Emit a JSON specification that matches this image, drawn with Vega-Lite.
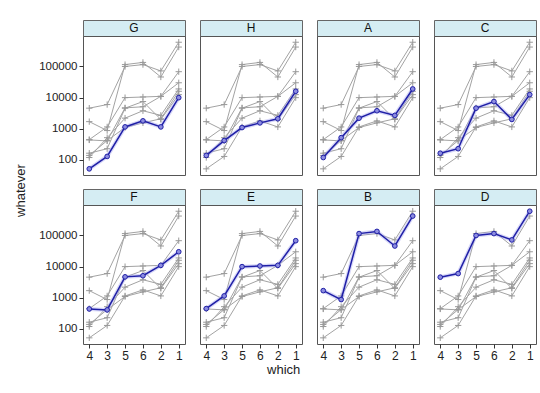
{
"$schema": "https://vega.github.io/schema/vega-lite/v6.json",
"padding": {"left": 15, "top": 19, "right": 5, "bottom": 5},
"config": {"font": "Liberation Sans", "view": {"stroke": "#555555"}, "axis": {"domain": false, "grid": false, "tickColor": "#333333", "labelColor": "#222222", "labelFont": "Liberation Sans"}},
"datasets": {"d": [
{"s":"G","w":"4","v":52},{"s":"G","w":"3","v":130},{"s":"G","w":"5","v":1150},{"s":"G","w":"6","v":1800},{"s":"G","w":"2","v":1150},{"s":"G","w":"1","v":10000},
{"s":"H","w":"4","v":140},{"s":"H","w":"3","v":420},{"s":"H","w":"5","v":1100},{"s":"H","w":"6","v":1550},{"s":"H","w":"2","v":2100},{"s":"H","w":"1","v":16000},
{"s":"A","w":"4","v":120},{"s":"A","w":"3","v":520},{"s":"A","w":"5","v":2200},{"s":"A","w":"6","v":3800},{"s":"A","w":"2","v":2700},{"s":"A","w":"1","v":19000},
{"s":"C","w":"4","v":165},{"s":"C","w":"3","v":230},{"s":"C","w":"5","v":4600},{"s":"C","w":"6","v":7500},{"s":"C","w":"2","v":2000},{"s":"C","w":"1","v":12500},
{"s":"F","w":"4","v":440},{"s":"F","w":"3","v":410},{"s":"F","w":"5","v":4700},{"s":"F","w":"6","v":5100},{"s":"F","w":"2","v":11000},{"s":"F","w":"1","v":30000},
{"s":"E","w":"4","v":450},{"s":"E","w":"3","v":1150},{"s":"E","w":"5","v":10000},{"s":"E","w":"6","v":10500},{"s":"E","w":"2","v":11000},{"s":"E","w":"1","v":68000},
{"s":"B","w":"4","v":1700},{"s":"B","w":"3","v":880},{"s":"B","w":"5","v":115000},{"s":"B","w":"6","v":135000},{"s":"B","w":"2","v":46000},{"s":"B","w":"1","v":420000},
{"s":"D","w":"4","v":4600},{"s":"D","w":"3","v":6000},{"s":"D","w":"5","v":100000},{"s":"D","w":"6","v":115000},{"s":"D","w":"2","v":72000},{"s":"D","w":"1","v":600000}
]},
"title": {"text": "which", "orient": "bottom", "anchor": "middle", "fontSize": 13, "fontWeight": "normal", "color": "#222222", "dx": 7, "offset": 2},
"vconcat": [{
"title": {"text": "whatever", "orient": "left", "anchor": "middle", "fontSize": 13, "fontWeight": "normal", "color": "#222222", "offset": 10},
"spacing": 10,
"vconcat": [
{"spacing": 9, "hconcat": [
{"spacing": 0, "bounds": "flush", "vconcat": [
{"width": 102, "height": 16, "data": {"values": [{}]}, "mark": {"type": "text", "text": "G", "fontSize": 12, "color": "#111111"}, "encoding": {}, "view": {"fill": "#d5edf3", "stroke": "#666666", "cornerRadius": 0}},
{"width": 102, "height": 139, "data": {"name": "d"},
"encoding": {"x": {"field": "w", "type": "ordinal", "sort": ["4","3","5","6","2","1"], "scale": {"type": "point", "padding": 0.35}, "axis": null},
"y": {"field": "v", "type": "quantitative", "scale": {"type": "log", "domain": [33, 950000], "nice": false}, "axis": {"title": null, "values": [100,1000,10000,100000], "format": "d", "labelFontSize": 11.5, "tickSize": 4, "labelPadding": 2}}},
"layer": [
{"transform": [{"filter": "datum.s != 'G'"}], "mark": {"type": "line", "color": "#a3a3a3", "strokeWidth": 1}, "encoding": {"detail": {"field": "s"}}},
{"transform": [{"filter": "datum.s != 'G'"}], "mark": {"type": "point", "shape": "M-1,0L1,0M0,-1L0,1", "size": 40, "color": "#999999", "strokeWidth": 1, "opacity": 1}},
{"transform": [{"filter": "datum.s == 'G'"}], "mark": {"type": "line", "color": "#a8a8f0", "strokeWidth": 4, "opacity": 0.45}},
{"transform": [{"filter": "datum.s == 'G'"}], "mark": {"type": "line", "color": "#1f1fa6", "strokeWidth": 1.5}},
{"transform": [{"filter": "datum.s == 'G'"}], "mark": {"type": "point", "shape": "circle", "size": 22, "fill": "#8c8ce0", "stroke": "#1f1fa6", "strokeWidth": 1, "opacity": 1}}
]}
]},
{"spacing": 0, "bounds": "flush", "vconcat": [
{"width": 102, "height": 16, "data": {"values": [{}]}, "mark": {"type": "text", "text": "H", "fontSize": 12, "color": "#111111"}, "encoding": {}, "view": {"fill": "#d5edf3", "stroke": "#666666", "cornerRadius": 0}},
{"width": 102, "height": 139, "data": {"name": "d"},
"encoding": {"x": {"field": "w", "type": "ordinal", "sort": ["4","3","5","6","2","1"], "scale": {"type": "point", "padding": 0.35}, "axis": null},
"y": {"field": "v", "type": "quantitative", "scale": {"type": "log", "domain": [33, 950000], "nice": false}, "axis": null}},
"layer": [
{"transform": [{"filter": "datum.s != 'H'"}], "mark": {"type": "line", "color": "#a3a3a3", "strokeWidth": 1}, "encoding": {"detail": {"field": "s"}}},
{"transform": [{"filter": "datum.s != 'H'"}], "mark": {"type": "point", "shape": "M-1,0L1,0M0,-1L0,1", "size": 40, "color": "#999999", "strokeWidth": 1, "opacity": 1}},
{"transform": [{"filter": "datum.s == 'H'"}], "mark": {"type": "line", "color": "#a8a8f0", "strokeWidth": 4, "opacity": 0.45}},
{"transform": [{"filter": "datum.s == 'H'"}], "mark": {"type": "line", "color": "#1f1fa6", "strokeWidth": 1.5}},
{"transform": [{"filter": "datum.s == 'H'"}], "mark": {"type": "point", "shape": "circle", "size": 22, "fill": "#8c8ce0", "stroke": "#1f1fa6", "strokeWidth": 1, "opacity": 1}}
]}
]},
{"spacing": 0, "bounds": "flush", "vconcat": [
{"width": 102, "height": 16, "data": {"values": [{}]}, "mark": {"type": "text", "text": "A", "fontSize": 12, "color": "#111111"}, "encoding": {}, "view": {"fill": "#d5edf3", "stroke": "#666666", "cornerRadius": 0}},
{"width": 102, "height": 139, "data": {"name": "d"},
"encoding": {"x": {"field": "w", "type": "ordinal", "sort": ["4","3","5","6","2","1"], "scale": {"type": "point", "padding": 0.35}, "axis": null},
"y": {"field": "v", "type": "quantitative", "scale": {"type": "log", "domain": [33, 950000], "nice": false}, "axis": null}},
"layer": [
{"transform": [{"filter": "datum.s != 'A'"}], "mark": {"type": "line", "color": "#a3a3a3", "strokeWidth": 1}, "encoding": {"detail": {"field": "s"}}},
{"transform": [{"filter": "datum.s != 'A'"}], "mark": {"type": "point", "shape": "M-1,0L1,0M0,-1L0,1", "size": 40, "color": "#999999", "strokeWidth": 1, "opacity": 1}},
{"transform": [{"filter": "datum.s == 'A'"}], "mark": {"type": "line", "color": "#a8a8f0", "strokeWidth": 4, "opacity": 0.45}},
{"transform": [{"filter": "datum.s == 'A'"}], "mark": {"type": "line", "color": "#1f1fa6", "strokeWidth": 1.5}},
{"transform": [{"filter": "datum.s == 'A'"}], "mark": {"type": "point", "shape": "circle", "size": 22, "fill": "#8c8ce0", "stroke": "#1f1fa6", "strokeWidth": 1, "opacity": 1}}
]}
]},
{"spacing": 0, "bounds": "flush", "vconcat": [
{"width": 102, "height": 16, "data": {"values": [{}]}, "mark": {"type": "text", "text": "C", "fontSize": 12, "color": "#111111"}, "encoding": {}, "view": {"fill": "#d5edf3", "stroke": "#666666", "cornerRadius": 0}},
{"width": 102, "height": 139, "data": {"name": "d"},
"encoding": {"x": {"field": "w", "type": "ordinal", "sort": ["4","3","5","6","2","1"], "scale": {"type": "point", "padding": 0.35}, "axis": null},
"y": {"field": "v", "type": "quantitative", "scale": {"type": "log", "domain": [33, 950000], "nice": false}, "axis": null}},
"layer": [
{"transform": [{"filter": "datum.s != 'C'"}], "mark": {"type": "line", "color": "#a3a3a3", "strokeWidth": 1}, "encoding": {"detail": {"field": "s"}}},
{"transform": [{"filter": "datum.s != 'C'"}], "mark": {"type": "point", "shape": "M-1,0L1,0M0,-1L0,1", "size": 40, "color": "#999999", "strokeWidth": 1, "opacity": 1}},
{"transform": [{"filter": "datum.s == 'C'"}], "mark": {"type": "line", "color": "#a8a8f0", "strokeWidth": 4, "opacity": 0.45}},
{"transform": [{"filter": "datum.s == 'C'"}], "mark": {"type": "line", "color": "#1f1fa6", "strokeWidth": 1.5}},
{"transform": [{"filter": "datum.s == 'C'"}], "mark": {"type": "point", "shape": "circle", "size": 22, "fill": "#8c8ce0", "stroke": "#1f1fa6", "strokeWidth": 1, "opacity": 1}}
]}
]}
]},
{"spacing": 9, "hconcat": [
{"spacing": 0, "bounds": "flush", "vconcat": [
{"width": 102, "height": 16, "data": {"values": [{}]}, "mark": {"type": "text", "text": "F", "fontSize": 12, "color": "#111111"}, "encoding": {}, "view": {"fill": "#d5edf3", "stroke": "#666666", "cornerRadius": 0}},
{"width": 102, "height": 139, "data": {"name": "d"},
"encoding": {"x": {"field": "w", "type": "ordinal", "sort": ["4","3","5","6","2","1"], "scale": {"type": "point", "padding": 0.35}, "axis": {"title": null, "labelAngle": 0, "labelFontSize": 12, "tickSize": 4, "labelPadding": 2}},
"y": {"field": "v", "type": "quantitative", "scale": {"type": "log", "domain": [33, 950000], "nice": false}, "axis": {"title": null, "values": [100,1000,10000,100000], "format": "d", "labelFontSize": 11.5, "tickSize": 4, "labelPadding": 2}}},
"layer": [
{"transform": [{"filter": "datum.s != 'F'"}], "mark": {"type": "line", "color": "#a3a3a3", "strokeWidth": 1}, "encoding": {"detail": {"field": "s"}}},
{"transform": [{"filter": "datum.s != 'F'"}], "mark": {"type": "point", "shape": "M-1,0L1,0M0,-1L0,1", "size": 40, "color": "#999999", "strokeWidth": 1, "opacity": 1}},
{"transform": [{"filter": "datum.s == 'F'"}], "mark": {"type": "line", "color": "#a8a8f0", "strokeWidth": 4, "opacity": 0.45}},
{"transform": [{"filter": "datum.s == 'F'"}], "mark": {"type": "line", "color": "#1f1fa6", "strokeWidth": 1.5}},
{"transform": [{"filter": "datum.s == 'F'"}], "mark": {"type": "point", "shape": "circle", "size": 22, "fill": "#8c8ce0", "stroke": "#1f1fa6", "strokeWidth": 1, "opacity": 1}}
]}
]},
{"spacing": 0, "bounds": "flush", "vconcat": [
{"width": 102, "height": 16, "data": {"values": [{}]}, "mark": {"type": "text", "text": "E", "fontSize": 12, "color": "#111111"}, "encoding": {}, "view": {"fill": "#d5edf3", "stroke": "#666666", "cornerRadius": 0}},
{"width": 102, "height": 139, "data": {"name": "d"},
"encoding": {"x": {"field": "w", "type": "ordinal", "sort": ["4","3","5","6","2","1"], "scale": {"type": "point", "padding": 0.35}, "axis": {"title": null, "labelAngle": 0, "labelFontSize": 12, "tickSize": 4, "labelPadding": 2}},
"y": {"field": "v", "type": "quantitative", "scale": {"type": "log", "domain": [33, 950000], "nice": false}, "axis": null}},
"layer": [
{"transform": [{"filter": "datum.s != 'E'"}], "mark": {"type": "line", "color": "#a3a3a3", "strokeWidth": 1}, "encoding": {"detail": {"field": "s"}}},
{"transform": [{"filter": "datum.s != 'E'"}], "mark": {"type": "point", "shape": "M-1,0L1,0M0,-1L0,1", "size": 40, "color": "#999999", "strokeWidth": 1, "opacity": 1}},
{"transform": [{"filter": "datum.s == 'E'"}], "mark": {"type": "line", "color": "#a8a8f0", "strokeWidth": 4, "opacity": 0.45}},
{"transform": [{"filter": "datum.s == 'E'"}], "mark": {"type": "line", "color": "#1f1fa6", "strokeWidth": 1.5}},
{"transform": [{"filter": "datum.s == 'E'"}], "mark": {"type": "point", "shape": "circle", "size": 22, "fill": "#8c8ce0", "stroke": "#1f1fa6", "strokeWidth": 1, "opacity": 1}}
]}
]},
{"spacing": 0, "bounds": "flush", "vconcat": [
{"width": 102, "height": 16, "data": {"values": [{}]}, "mark": {"type": "text", "text": "B", "fontSize": 12, "color": "#111111"}, "encoding": {}, "view": {"fill": "#d5edf3", "stroke": "#666666", "cornerRadius": 0}},
{"width": 102, "height": 139, "data": {"name": "d"},
"encoding": {"x": {"field": "w", "type": "ordinal", "sort": ["4","3","5","6","2","1"], "scale": {"type": "point", "padding": 0.35}, "axis": {"title": null, "labelAngle": 0, "labelFontSize": 12, "tickSize": 4, "labelPadding": 2}},
"y": {"field": "v", "type": "quantitative", "scale": {"type": "log", "domain": [33, 950000], "nice": false}, "axis": null}},
"layer": [
{"transform": [{"filter": "datum.s != 'B'"}], "mark": {"type": "line", "color": "#a3a3a3", "strokeWidth": 1}, "encoding": {"detail": {"field": "s"}}},
{"transform": [{"filter": "datum.s != 'B'"}], "mark": {"type": "point", "shape": "M-1,0L1,0M0,-1L0,1", "size": 40, "color": "#999999", "strokeWidth": 1, "opacity": 1}},
{"transform": [{"filter": "datum.s == 'B'"}], "mark": {"type": "line", "color": "#a8a8f0", "strokeWidth": 4, "opacity": 0.45}},
{"transform": [{"filter": "datum.s == 'B'"}], "mark": {"type": "line", "color": "#1f1fa6", "strokeWidth": 1.5}},
{"transform": [{"filter": "datum.s == 'B'"}], "mark": {"type": "point", "shape": "circle", "size": 22, "fill": "#8c8ce0", "stroke": "#1f1fa6", "strokeWidth": 1, "opacity": 1}}
]}
]},
{"spacing": 0, "bounds": "flush", "vconcat": [
{"width": 102, "height": 16, "data": {"values": [{}]}, "mark": {"type": "text", "text": "D", "fontSize": 12, "color": "#111111"}, "encoding": {}, "view": {"fill": "#d5edf3", "stroke": "#666666", "cornerRadius": 0}},
{"width": 102, "height": 139, "data": {"name": "d"},
"encoding": {"x": {"field": "w", "type": "ordinal", "sort": ["4","3","5","6","2","1"], "scale": {"type": "point", "padding": 0.35}, "axis": {"title": null, "labelAngle": 0, "labelFontSize": 12, "tickSize": 4, "labelPadding": 2}},
"y": {"field": "v", "type": "quantitative", "scale": {"type": "log", "domain": [33, 950000], "nice": false}, "axis": null}},
"layer": [
{"transform": [{"filter": "datum.s != 'D'"}], "mark": {"type": "line", "color": "#a3a3a3", "strokeWidth": 1}, "encoding": {"detail": {"field": "s"}}},
{"transform": [{"filter": "datum.s != 'D'"}], "mark": {"type": "point", "shape": "M-1,0L1,0M0,-1L0,1", "size": 40, "color": "#999999", "strokeWidth": 1, "opacity": 1}},
{"transform": [{"filter": "datum.s == 'D'"}], "mark": {"type": "line", "color": "#a8a8f0", "strokeWidth": 4, "opacity": 0.45}},
{"transform": [{"filter": "datum.s == 'D'"}], "mark": {"type": "line", "color": "#1f1fa6", "strokeWidth": 1.5}},
{"transform": [{"filter": "datum.s == 'D'"}], "mark": {"type": "point", "shape": "circle", "size": 22, "fill": "#8c8ce0", "stroke": "#1f1fa6", "strokeWidth": 1, "opacity": 1}}
]}
]}
]}
]
}]
}
